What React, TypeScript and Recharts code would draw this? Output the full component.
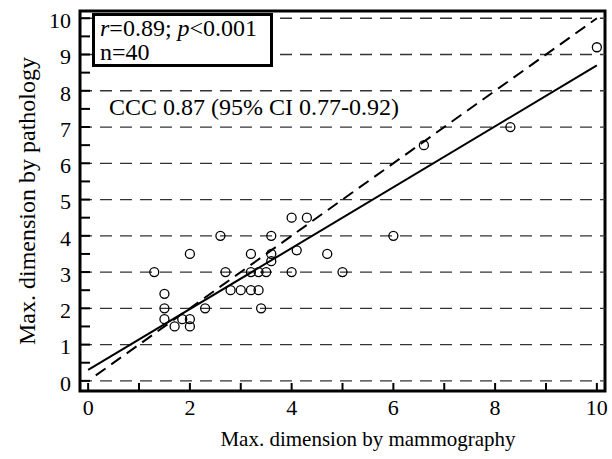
import React from "react";
import { ComposedChart, XAxis, YAxis, Scatter, ReferenceLine, ReferenceArea } from "recharts";

// mammography (x) vs pathology (y) max dimension, cm
const mammography = [2.6, 3.6, 2.0, 3.2, 3.6, 3.6, 1.3, 2.7, 3.2, 3.35, 3.5, 4.0, 4.1, 4.0, 1.5, 2.8, 3.0, 3.2, 3.35, 1.5, 2.3, 3.4, 1.5, 1.85, 2.0, 1.7, 2.0, 4.3, 6.0, 4.7, 5.0, 10.0, 8.3, 6.6];
const pathology = [4.0, 4.0, 3.5, 3.5, 3.5, 3.3, 3.0, 3.0, 3.0, 3.0, 3.0, 3.0, 3.6, 4.5, 2.4, 2.5, 2.5, 2.5, 2.5, 2.0, 2.0, 2.0, 1.7, 1.7, 1.7, 1.5, 1.5, 4.5, 4.0, 3.5, 3.0, 9.2, 7.0, 6.5];

const fitLine = [{ x: 0, y: 0.3 }, { x: 10, y: 8.7 }];
const identityLine = [{ x: 0.15, y: 0.15 }, { x: 10, y: 10 }];

const xTicks = [0, 1, 2, 3, 4, 5, 6, 7, 8, 9, 10];
const yTicks = [0, 0.5, 1, 1.5, 2, 2.5, 3, 3.5, 4, 4.5, 5, 5.5, 6, 6.5, 7, 7.5, 8, 8.5, 9, 9.5, 10];
const yGrid = [0, 1, 2, 3, 4, 5, 6, 7, 8, 9, 10];

const xDomain: [number, number] = [-0.16, 10.16];
const yDomain: [number, number] = [-0.28, 10.2];

const points = mammography.map((x, i) => ({ x, y: pathology[i] }));

const FONT = "'Liberation Serif', 'Times New Roman', serif";

const XTick = (props: any) => {
  const { x, y, payload } = props;
  const v = payload.value;
  return (
    <g>
      <line x1={x} x2={x} y1={y} y2={y - 8} stroke="#000" strokeWidth={2} />
      {v % 2 === 0 && (
        <text x={x} y={y + 24} textAnchor="middle" fontSize={22} fontFamily={FONT} fill="#000">
          {v}
        </text>
      )}
    </g>
  );
};

const YTick = (props: any) => {
  const { x, y, payload } = props;
  const v = payload.value;
  return (
    <g>
      <line x1={x} x2={x + 10} y1={y} y2={y} stroke="#000" strokeWidth={2} />
      {Number.isInteger(v) && (
        <text x={x - 9} y={y} dy="0.45em" textAnchor="end" fontSize={22} fontFamily={FONT} fill="#000">
          {v}
        </text>
      )}
    </g>
  );
};

const Circle = (props: any) => (
  <circle cx={props.cx} cy={props.cy} r={4.5} fill="none" stroke="#000" strokeWidth={1.3} />
);

export default function App() {
  return (
    <div style={{ position: "absolute", left: 0, top: 0, width: 612, height: 459, background: "#fff", fontFamily: FONT }}>
      <ComposedChart width={612} height={459} margin={{ top: 11, right: 7, bottom: 0, left: 0 }}>
        <XAxis
          type="number"
          dataKey="x"
          domain={xDomain}
          ticks={xTicks}
          tick={<XTick />}
          tickSize={0}
          tickMargin={0}
          tickLine={false}
          axisLine={false}
          allowDataOverflow
          height={68}
          interval={0}
        />
        <YAxis
          type="number"
          dataKey="y"
          domain={yDomain}
          ticks={yTicks}
          tick={<YTick />}
          tickSize={0}
          tickMargin={0}
          tickLine={false}
          axisLine={false}
          allowDataOverflow
          width={80}
          interval={0}
        />
        {yGrid.map((v) => (
          <ReferenceLine key={v} y={v} stroke="#333" strokeWidth={1.3} strokeDasharray="12 8" />
        ))}
        <ReferenceLine segment={identityLine} stroke="#000" strokeWidth={2} strokeDasharray="12 7" />
        <ReferenceLine segment={fitLine} stroke="#000" strokeWidth={2} />
        <Scatter data={points} shape={<Circle />} isAnimationActive={false} />
        <ReferenceArea x1={xDomain[0]} x2={xDomain[1]} y1={yDomain[0]} y2={yDomain[1]} fill="none" stroke="#000" strokeWidth={3} ifOverflow="visible" />
      </ComposedChart>
      <div
        style={{
          position: "absolute",
          left: 92,
          top: 13,
          width: 181,
          height: 54,
          boxSizing: "border-box",
          border: "3px solid #000",
          background: "#fff",
          fontSize: 24,
          lineHeight: "24px",
          paddingLeft: 5,
          color: "#000",
          whiteSpace: "nowrap",
        }}
      >
        <div><i>r</i>=0.89; <i>p</i>&lt;0.001</div>
        <div>n=40</div>
      </div>
      <div style={{ position: "absolute", left: 109, top: 95, fontSize: 24, lineHeight: "24px", color: "#000", whiteSpace: "nowrap" }}>
        CCC 0.87 (95% CI 0.77-0.92)
      </div>
      <div
        style={{
          position: "absolute",
          left: 368,
          top: 429,
          transform: "translateX(-50%)",
          fontSize: 21,
          lineHeight: "21px",
          color: "#000",
          whiteSpace: "nowrap",
        }}
      >
        Max. dimension by mammography
      </div>
      <div
        style={{
          position: "absolute",
          left: 27,
          top: 201,
          transform: "translate(-50%, -50%) rotate(-90deg)",
          fontSize: 24,
          lineHeight: "24px",
          color: "#000",
          whiteSpace: "nowrap",
        }}
      >
        Max. dimension by pathology
      </div>
    </div>
  );
}
